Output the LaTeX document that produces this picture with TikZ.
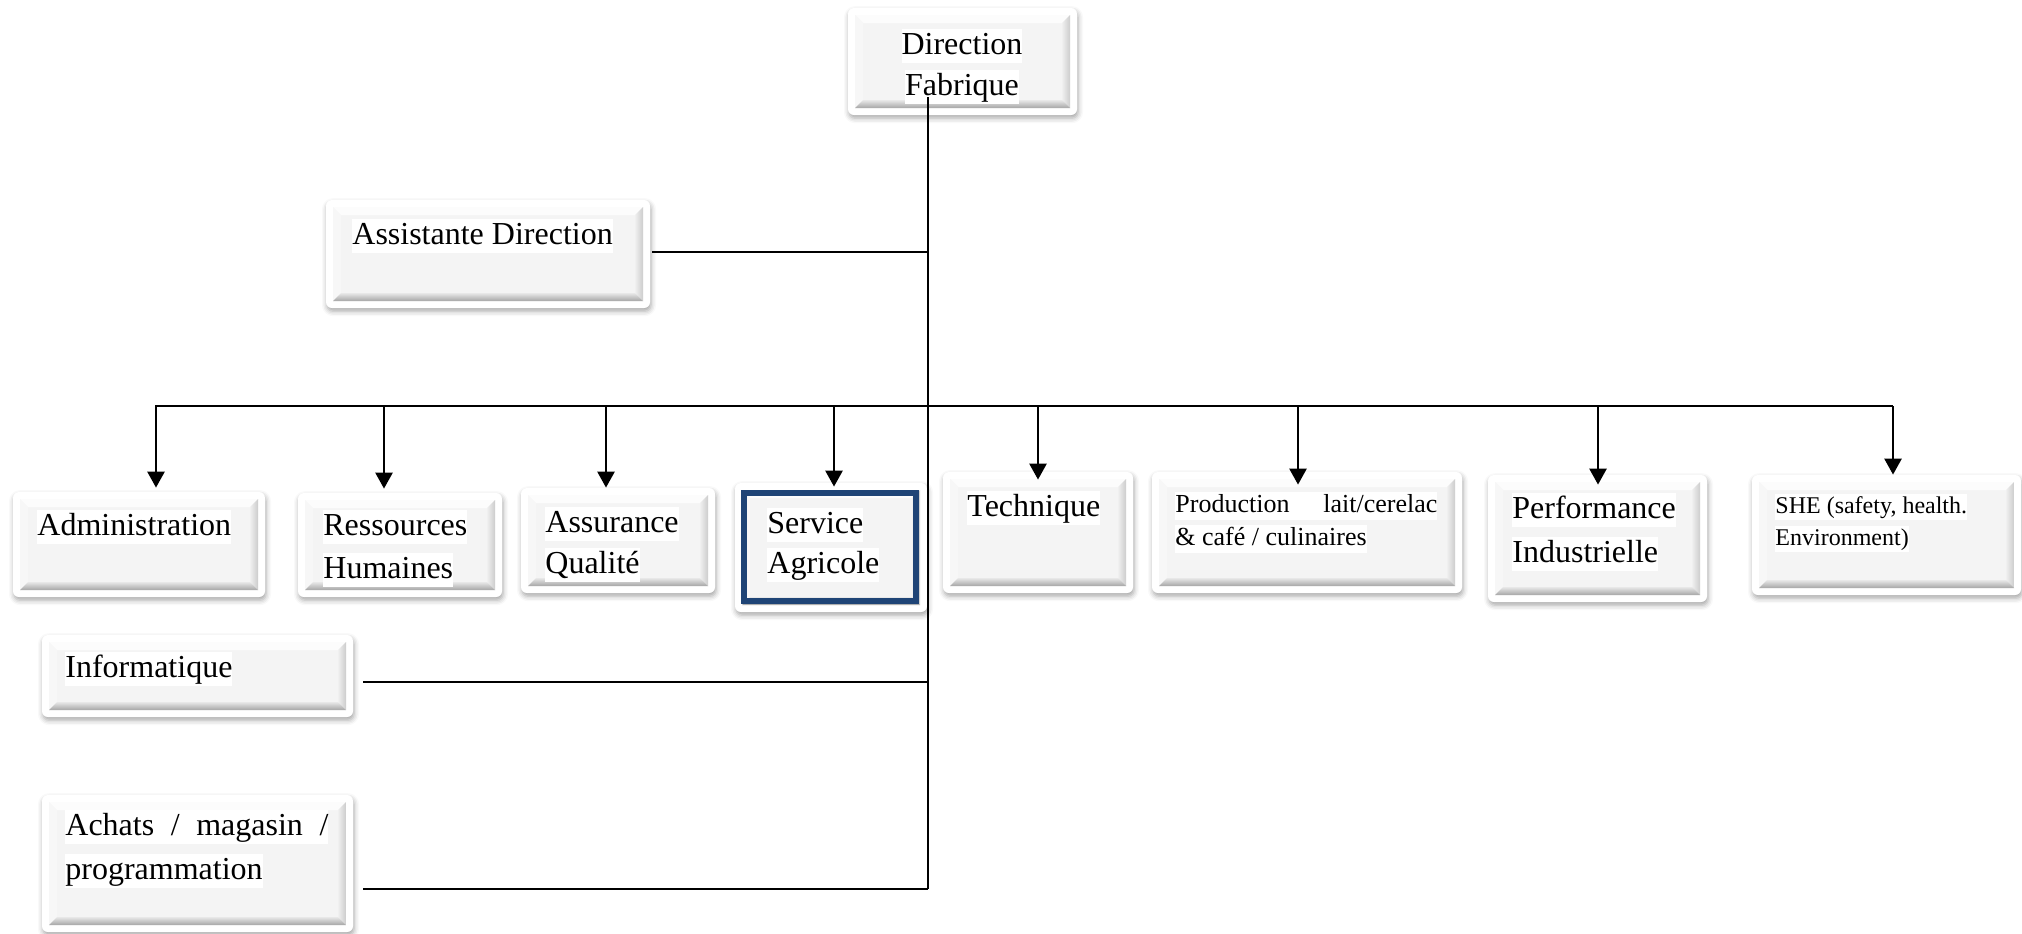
\documentclass[tikz,border=0pt]{standalone}
\usepackage{fontspec}
\setmainfont{Liberation Serif}
\usetikzlibrary{arrows.meta,fit,shadows.blur}
\definecolor{sablue}{RGB}{31,68,118}
\definecolor{panelgray}{RGB}{244,244,244}
\newcommand\hl[1]{{\setlength{\fboxsep}{0pt}\colorbox{white}{\rule[-0.28em]{0pt}{1.06em}#1}}}
\tikzset{
  frame/.style={fill=white, rounded corners=3pt,
    blur shadow={shadow xshift=0.5pt, shadow yshift=-1.6pt, shadow blur radius=2.5pt, shadow opacity=35}},
  lbl/.style={inner sep=0pt, anchor=north west, align=left, font=\fontsize{16}{21}\selectfont},
  lblsmall/.style={inner sep=0pt, anchor=north west, align=left, font=\fontsize{13}{16.5}\selectfont},
  lbltiny/.style={inner sep=0pt, anchor=north west, align=left, font=\fontsize{12}{16}\selectfont},
  conn/.style={line width=1pt, black},
  arr/.style={line width=1.3pt, black, -{Triangle[width=8.5pt,length=8pt]}},
}
% name, x1, y1, x2, y2 (outer frame, px)
\newcommand\orgbox[5]{%
  \fill[frame] (#2,#3) rectangle (#4,#5);
  \fill[panelgray] (#2+7,#3+7) rectangle (#4-7,#5-7);
  \fill[white!70!panelgray] (#2+7,#3+7) -- (#4-7,#3+7) -- (#4-15,#3+15) -- (#2+15,#3+15) -- cycle;
  \fill[gray!6] (#2+7,#3+7) -- (#2+15,#3+15) -- (#2+15,#5-15) -- (#2+7,#5-7) -- cycle;
  \shade[left color=gray!12, right color=gray!40] (#4-7,#3+7) -- (#4-7,#5-7) -- (#4-15,#5-15) -- (#4-15,#3+15) -- cycle;
  \shade[top color=gray!18, bottom color=gray!70] (#2+7,#5-7) -- (#4-7,#5-7) -- (#4-15,#5-15) -- (#2+15,#5-15) -- cycle;
  \node[inner sep=0pt, fit={(#2,#3) (#4,#5)}] (#1) {};
}
\begin{document}
\begin{tikzpicture}[x=0.5pt,y=-0.5pt]
\useasboundingbox (0,0) rectangle (2022,933);

% boxes
\orgbox{dir}{848}{8}{1077}{115}
\orgbox{assist}{326}{200}{650}{308}
\orgbox{adm}{13}{492}{265}{597}
\orgbox{rh}{298}{493}{502}{597}
\orgbox{aq}{521}{488}{715}{593}
\orgbox{sa}{735}{483}{927}{612}
\draw[sablue, line width=3pt] (744,493) rectangle (916,601);
\orgbox{tech}{943}{472}{1133}{593}
\orgbox{prod}{1152}{472}{1462}{593}
\orgbox{perf}{1488}{475}{1707}{602}
\orgbox{she}{1752}{475}{2021}{595}
\orgbox{info}{42}{635}{353}{717}
\orgbox{achats}{42}{795}{353}{932}

% texts
\node[inner sep=0pt, anchor=north, align=center, font=\fontsize{16}{20.5}\selectfont] (dirt) at (962,29) {\hl{Direction}\\\hl{Fabrique}};
\node[lbl] (assistt) at (352,219) {\hl{Assistante Direction}};
\node[lbl] (admt) at (37,510) {\hl{Administration}};
\node[lbl, font=\fontsize{16}{21.5}\selectfont] (rht) at (323,510) {\hl{Ressources}\\\hl{Humaines}};
\node[lbl, font=\fontsize{16}{20.5}\selectfont] (aqt) at (545,507) {\hl{Assurance}\\\hl{Qualité}};
\node[lbl, font=\fontsize{16}{20}\selectfont] (sat) at (767,508) {\hl{Service}\\\hl{Agricole}};
\node[lbl] (techt) at (967,491) {\hl{Technique}};
\node[lblsmall] (prodt) at (1175,492) {\hl{\makebox[131pt]{Production\hfill lait/cerelac}}\\\hl{\& café / culinaires}};
\node[lbl, font=\fontsize{16}{22}\selectfont] (perft) at (1512,493) {\hl{Performance}\\\hl{Industrielle}};
\node[lbltiny] (shet) at (1775,494) {\hl{SHE (safety, health.}\\\hl{Environment)}};
\node[lbl] (infot) at (65,652) {\hl{Informatique}};
\node[lbl, font=\fontsize{16}{22}\selectfont] (achatst) at (65,810) {\hl{\makebox[131.5pt]{Achats\hfill/\hfill magasin\hfill/}}\\\hl{programmation}};

% connectors
\coordinate (vtop) at (928,97);
\coordinate (vbot) at (928,889);
\coordinate (bL) at (155,406);
\coordinate (bR) at (1893,406);
\draw[conn] (vtop) -- (vbot);
\draw[conn] (bL) -- (bR);

\path ([xshift=1pt,yshift=1pt]assist.east) coordinate (ae);
\draw[conn] (ae) -- (ae -| vtop);
\path ([xshift=5pt,yshift=-3pt]info.east) coordinate (ie);
\draw[conn] (ie) -- (ie -| vtop);
\coordinate (he) at (363,889);
\draw[conn] (he) -- (vbot);

\coordinate (a1) at (156,406);
\coordinate (a2) at (384,406);
\coordinate (a3) at (606,406);
\coordinate (a4) at (834,406);
\coordinate (a5) at (1038,406);
\coordinate (a6) at (1298,406);
\coordinate (a7) at (1598,406);
\coordinate (a8) at (1893,406);
\draw[arr, shorten >=2pt] (a1) -- (a1 |- adm.north);
\draw[arr, shorten >=2pt] (a2) -- (a2 |- rh.north);
\draw[arr] (a3) -- (a3 |- aq.north);
\draw[arr, shorten >=-2pt] (a4) -- (a4 |- sa.north);
\draw[arr, shorten >=-4pt] (a5) -- (a5 |- tech.north);
\draw[arr, shorten >=-6.5pt] (a6) -- (a6 |- prod.north);
\draw[arr, shorten >=-5pt] (a7) -- (a7 |- perf.north);
\draw[arr] (a8) -- (a8 |- she.north);
\end{tikzpicture}
\end{document}
